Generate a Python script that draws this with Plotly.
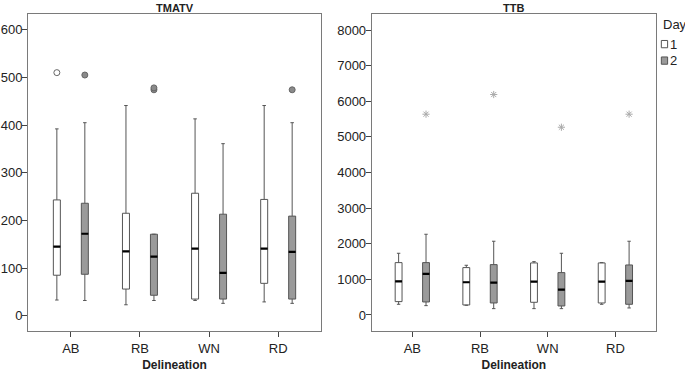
import plotly.graph_objects as go

categories = ["AB", "RB", "WN", "RD"]
days = ["1", "2"]

# TMATV summary statistics
tmatv_day1_lower = [33, 23, 32, 29]
tmatv_day1_q1 = [85, 56, 35, 68]
tmatv_day1_median = [145, 135, 141, 141]
tmatv_day1_q3 = [243, 215, 257, 244]
tmatv_day1_upper = [392, 441, 413, 441]
tmatv_day1_out_x = ["AB"]
tmatv_day1_out_y = [510]

tmatv_day2_lower = [32, 32, 26, 26]
tmatv_day2_q1 = [87, 43, 35, 35]
tmatv_day2_median = [172, 124, 90, 134]
tmatv_day2_q3 = [236, 171, 213, 209]
tmatv_day2_upper = [405, 171, 361, 405]
tmatv_day2_out_x = ["AB", "RB", "RB", "RD"]
tmatv_day2_out_y = [505, 478, 474, 474]

# TTB summary statistics
ttb_day1_lower = [300, 272, 178, 300]
ttb_day1_q1 = [375, 281, 356, 337]
ttb_day1_median = [946, 918, 936, 936]
ttb_day1_q3 = [1470, 1330, 1461, 1461]
ttb_day1_upper = [1732, 1395, 1498, 1470]
ttb_day1_out_x = []
ttb_day1_out_y = []

ttb_day2_lower = [262, 178, 178, 197]
ttb_day2_q1 = [365, 337, 253, 300]
ttb_day2_median = [1152, 908, 712, 955]
ttb_day2_q3 = [1470, 1414, 1189, 1404]
ttb_day2_upper = [2266, 2070, 1732, 2070]
ttb_day2_out_x = ["AB", "RB", "WN", "RD"]
ttb_day2_out_y = [5637, 6189, 5271, 5637]

FONT = "Liberation Sans, Arial, sans-serif"
fills = {"1": "white", "2": "#9a9a9a"}
edge = "#555555"

fig = go.Figure()


def add_panel(xa, ya, stats, outliers, out_style):
    for d in days:
        lo, q1, med, q3, up = stats[d]
        fig.add_trace(go.Box(
            x=categories, lowerfence=lo, q1=q1, median=med, q3=q3, upperfence=up,
            name=d, legendgroup=d, offsetgroup=d, showlegend=False,
            fillcolor=fills[d], line=dict(color=edge, width=1),
            whiskerwidth=0.5, boxpoints=False, xaxis=xa, yaxis=ya,
            hoverinfo="skip"))
        # thick median line
        fig.add_trace(go.Box(
            x=categories, lowerfence=med, q1=med, median=med, q3=med, upperfence=med,
            name=d, legendgroup=d, offsetgroup=d, showlegend=False,
            fillcolor="black", line=dict(color="black", width=2.2),
            whiskerwidth=0, boxpoints=False, xaxis=xa, yaxis=ya,
            hoverinfo="skip"))
        ox, oy = outliers[d]
        if oy:
            fig.add_trace(go.Box(
                x=ox, y=oy, name=d, legendgroup=d, offsetgroup=d, showlegend=False,
                fillcolor="rgba(0,0,0,0)", line=dict(color="rgba(0,0,0,0)", width=0),
                boxpoints="all", jitter=0, pointpos=0, whiskerwidth=0,
                marker=out_style[d], xaxis=xa, yaxis=ya, hoverinfo="skip"))


add_panel("x", "y",
          {"1": (tmatv_day1_lower, tmatv_day1_q1, tmatv_day1_median, tmatv_day1_q3, tmatv_day1_upper),
           "2": (tmatv_day2_lower, tmatv_day2_q1, tmatv_day2_median, tmatv_day2_q3, tmatv_day2_upper)},
          {"1": (tmatv_day1_out_x, tmatv_day1_out_y), "2": (tmatv_day2_out_x, tmatv_day2_out_y)},
          {"1": dict(symbol="circle", size=6, color="white", line=dict(color="#666", width=1)),
           "2": dict(symbol="circle", size=6, color="#8a8a8a", line=dict(color="#666", width=1))})

add_panel("x2", "y2",
          {"1": (ttb_day1_lower, ttb_day1_q1, ttb_day1_median, ttb_day1_q3, ttb_day1_upper),
           "2": (ttb_day2_lower, ttb_day2_q1, ttb_day2_median, ttb_day2_q3, ttb_day2_upper)},
          {"1": (ttb_day1_out_x, ttb_day1_out_y), "2": (ttb_day2_out_x, ttb_day2_out_y)},
          {"1": dict(symbol="asterisk-open", size=6, color="#aaa", line=dict(color="#aaa", width=1)),
           "2": dict(symbol="asterisk-open", size=6, color="#aaa", line=dict(color="#aaa", width=1))})

axis_common = dict(showline=True, linecolor="#7a7a7a", linewidth=1, mirror=True,
                   ticks="outside", ticklen=5, tickcolor="#444", showgrid=False,
                   zeroline=False, automargin=False,
                   tickfont=dict(family=FONT, size=13, color="#222"))

xa = dict(axis_common, type="category", categoryorder="array", categoryarray=categories,
          title=dict(text="<b>Delineation</b>", font=dict(family=FONT, size=12, color="#222"), standoff=10))

# Legend drawn as swatches + text at the top right, as in the reference
legend_title = "Day"
legend_items = days
legend_shapes = []
legend_annots = [dict(text=legend_title, xref="paper", yref="paper", x=1.008, y=0.966,
                      xanchor="left", yanchor="middle", showarrow=False,
                      font=dict(family=FONT, size=13, color="#222"))]
for i, d in enumerate(legend_items):
    yc = 0.905 - i * 0.052
    legend_shapes.append(dict(type="rect", xref="paper", yref="paper",
                              x0=1.0085, x1=1.0185, y0=yc - 0.0115, y1=yc + 0.0115,
                              fillcolor=fills[d], line=dict(color=edge, width=1)))
    legend_annots.append(dict(text=d, xref="paper", yref="paper", x=1.019, y=yc,
                              xanchor="left", yanchor="middle", showarrow=False,
                              font=dict(family=FONT, size=13, color="#222")))

fig.update_layout(
    width=685, height=372,
    margin=dict(l=28, r=29, t=14, b=41, autoexpand=False),
    paper_bgcolor="white", plot_bgcolor="white",
    showlegend=False,
    boxmode="group", boxgap=0.19, boxgroupgap=0.75,
    xaxis=dict(xa, domain=[0, 0.4666], range=[-0.62, 3.62], anchor="y"),
    xaxis2=dict(xa, domain=[0.5473, 1], range=[-0.6, 3.6], anchor="y2"),
    yaxis=dict(axis_common, range=[-32, 633], dtick=100, anchor="x", ticklabelstandoff=-3),
    yaxis2=dict(axis_common, range=[-450, 8450], dtick=1000, anchor="x2", ticklabelstandoff=-3),
    shapes=legend_shapes,
    annotations=[
        dict(text="<b>TMATV</b>", xref="x domain", yref="paper", x=0.5, y=1.0, yshift=6,
             showarrow=False, font=dict(family=FONT, size=11, color="#222"), yanchor="middle"),
        dict(text="<b>TTB</b>", xref="x2 domain", yref="paper", x=0.5, y=1.0, yshift=6,
             showarrow=False, font=dict(family=FONT, size=11, color="#222"), yanchor="middle"),
    ] + legend_annots,
)

fig.write_html("out.html", config={"displayModeBar": False},
               post_script="document.body.style.margin='0';document.body.style.overflow='hidden';")
